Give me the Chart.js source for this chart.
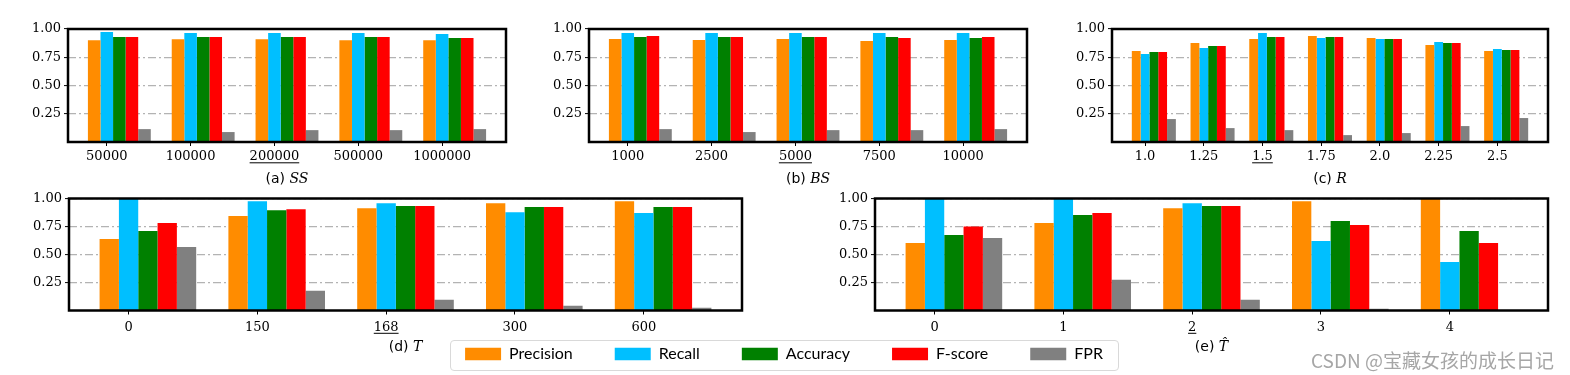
<!DOCTYPE html>
<html>
<head>
<meta charset="utf-8">
<script src="https://cdn.jsdelivr.net/npm/chart.js@4.4.0/dist/chart.umd.min.js"></script>
<style>
  body { margin: 0; background: #fff; }
  #page { position: relative; width: 1570px; height: 375px; overflow: hidden; background: #fff; }
  canvas { position: absolute; }
  #legendFrame { position: absolute; left: 450px; top: 340px; width: 667px; height: 29px;
    border: 1.5px solid #d9d9d9; border-radius: 4px; background: #fff; }
  #mark { position: absolute; right: 16px; top: 346px; font: 19px "Noto Sans CJK SC", sans-serif;
    color: #a6a6a6; white-space: nowrap; }
</style>
</head>
<body>
<div id="page">
  <canvas id="chartSS" width="520" height="190" style="left:0px;top:0px"></canvas>
  <canvas id="chartBS" width="520" height="190" style="left:520px;top:0px"></canvas>
  <canvas id="chartR" width="530" height="190" style="left:1040px;top:0px"></canvas>
  <canvas id="chartT" width="760" height="190" style="left:0px;top:185px"></canvas>
  <canvas id="chartTh" width="810" height="190" style="left:760px;top:185px"></canvas>
  <div id="legendFrame"></div>
  <canvas id="legend" width="800" height="110" style="left:384px;top:304px"></canvas>
  <div id="mark">CSDN @宝藏女孩的成长日记</div>
</div>
<script>
// series shared by every panel
const seriesNames = ["Precision", "Recall", "Accuracy", "F-score", "FPR"];
const seriesColors = ["#ff8c00", "#00bfff", "#008000", "#ff0000", "#808080"];

// (a) SS
const ssLabels = ["50000", "100000", "200000", "500000", "1000000"];
const ssPrecision = [0.90, 0.91, 0.91, 0.90, 0.90];
const ssRecall = [0.973, 0.964, 0.964, 0.964, 0.955];
const ssAccuracy = [0.929, 0.929, 0.929, 0.929, 0.92];
const ssFscore = [0.929, 0.929, 0.929, 0.929, 0.92];
const ssFPR = [0.114, 0.088, 0.105, 0.105, 0.114];

// (b) BS
const bsLabels = ["1000", "2500", "5000", "7500", "10000"];
const bsPrecision = [0.911, 0.902, 0.911, 0.893, 0.902];
const bsRecall = [0.964, 0.964, 0.964, 0.964, 0.964];
const bsAccuracy = [0.929, 0.929, 0.929, 0.929, 0.92];
const bsFscore = [0.938, 0.929, 0.929, 0.92, 0.929];
const bsFPR = [0.114, 0.088, 0.105, 0.105, 0.114];

// (c) R
const rLabels = ["1.0", "1.25", "1.5", "1.75", "2.0", "2.25", "2.5"];
const rPrecision = [0.805, 0.876, 0.911, 0.938, 0.92, 0.858, 0.805];
const rRecall = [0.779, 0.832, 0.964, 0.92, 0.911, 0.885, 0.823];
const rAccuracy = [0.796, 0.849, 0.929, 0.929, 0.911, 0.876, 0.814];
const rFscore = [0.796, 0.849, 0.929, 0.929, 0.911, 0.876, 0.814];
const rFPR = [0.203, 0.123, 0.105, 0.061, 0.079, 0.141, 0.212];

// (d) T
const tLabels = ["0", "150", "168", "300", "600"];
const tPrecision = [0.638, 0.843, 0.914, 0.958, 0.976];
const tRecall = [1.0, 0.976, 0.958, 0.878, 0.87];
const tAccuracy = [0.709, 0.896, 0.932, 0.923, 0.923];
const tFscore = [0.781, 0.905, 0.932, 0.923, 0.923];
const tFPR = [0.567, 0.176, 0.096, 0.042, 0.025];

// (e) T hat
const thLabels = ["0", "1", "2", "3", "4"];
const thPrecision = [0.603, 0.781, 0.914, 0.976, 0.995];
const thRecall = [1.0, 0.995, 0.958, 0.621, 0.434];
const thAccuracy = [0.674, 0.852, 0.932, 0.798, 0.709];
const thFscore = [0.751, 0.87, 0.932, 0.763, 0.603];
const thFPR = [0.647, 0.274, 0.096, 0.016, 0.0];

const yTicks = [0.25, 0.5, 0.75, 1.0];
const BAR = 0.15; // bar width in category units

const tickFont = { family: "DejaVu Serif", size: 13 };

const framePlugin = {
  id: "frame",
  afterDraw(chart) {
    const a = chart.chartArea, ctx = chart.ctx;
    ctx.save();
    ctx.lineWidth = 2.5;
    ctx.strokeStyle = "#000";
    ctx.strokeRect(a.left, a.top, a.right - a.left, a.bottom - a.top);
    ctx.restore();
  }
};

const captionPlugin = {
  id: "caption",
  afterDraw(chart, args, opts) {
    const ctx = chart.ctx, a = chart.chartArea;
    const cx = (a.left + a.right) / 2;
    ctx.save();
    ctx.fillStyle = "#000";
    ctx.textBaseline = "middle";
    ctx.textAlign = "left";
    ctx.font = '14px "DejaVu Sans"';
    const w1 = ctx.measureText(opts.tag + " ").width;
    ctx.font = 'italic 14px "DejaVu Serif"';
    const w2 = ctx.measureText(opts.sym).width;
    let x = cx - (w1 + w2) / 2;
    ctx.font = '14px "DejaVu Sans"';
    ctx.fillText(opts.tag + " ", x, opts.y);
    ctx.font = 'italic 14px "DejaVu Serif"';
    ctx.fillText(opts.sym, x + w1, opts.y);

    // underline the chosen default value on the x axis
    const sc = chart.scales.x;
    const lbl = opts.labels[opts.underline];
    ctx.font = '13px "DejaVu Serif"';
    const lw = ctx.measureText(lbl).width;
    const px = sc.getPixelForValue(opts.underline);
    const ly = a.bottom + 4 + opts.pad + 7.8 + 6;
    ctx.lineWidth = 1;
    ctx.strokeStyle = "#000";
    ctx.beginPath();
    ctx.moveTo(px - lw / 2, ly);
    ctx.lineTo(px + lw / 2, ly);
    ctx.stroke();
    ctx.restore();
  }
};

function makeChart(id, labels, series, g) {
  const n = labels.length;
  const span = n - 1 + 5 * BAR;
  const xMin = -1.5 * BAR - 0.05 * span;
  const xMax = n - 1 + 3.5 * BAR + 0.05 * span;
  const canvas = document.getElementById(id);
  const datasets = series.map((vals, k) => ({
    label: seriesNames[k],
    data: vals.map((v, i) => ({ x: i + BAR, y: v })),
    backgroundColor: seriesColors[k],
    borderWidth: 0,
    categoryPercentage: 5 * BAR,
    barPercentage: 1.0
  }));
  return new Chart(canvas, {
    type: "bar",
    data: { datasets: datasets },
    options: {
      responsive: false,
      animation: false,
      layout: { padding: { left: 0, top: g.top, right: canvas.width - g.right, bottom: 0 } },
      plugins: {
        legend: { display: false },
        tooltip: { enabled: false },
        caption: { tag: g.tag, sym: g.sym, y: g.capY, labels: labels, underline: 2, pad: g.pad }
      },
      scales: {
        x: {
          type: "linear",
          min: xMin,
          max: xMax,
          offset: false,
          afterBuildTicks: s => { s.ticks = labels.map((l, i) => ({ value: i })); },
          afterFit: s => { s.height = canvas.height - g.bottom; },
          ticks: {
            callback: v => labels[v],
            autoSkip: false,
            maxRotation: 0,
            padding: g.pad,
            color: "#000",
            font: tickFont
          },
          grid: { offset: false, drawOnChartArea: false, drawTicks: true, tickLength: 4, tickColor: "#000", tickWidth: 1 },
          border: { display: false }
        },
        y: {
          min: 0,
          max: 1,
          afterBuildTicks: s => { s.ticks = yTicks.map(v => ({ value: v })); },
          afterFit: s => { s.width = g.left; },
          ticks: {
            callback: v => v.toFixed(2),
            padding: 3,
            color: "#000",
            font: tickFont
          },
          grid: { color: "#b3b3b3", lineWidth: 1.2, drawTicks: true, tickLength: 4, tickColor: "#000", tickWidth: 1 },
          border: { display: false, dash: [8, 3, 2, 3] }
        }
      }
    },
    plugins: [framePlugin, captionPlugin]
  });
}

makeChart("chartSS", ssLabels, [ssPrecision, ssRecall, ssAccuracy, ssFscore, ssFPR],
  { left: 68, right: 506, top: 29, bottom: 142, pad: 3, tag: "(a)", sym: "SS", capY: 179 });
makeChart("chartBS", bsLabels, [bsPrecision, bsRecall, bsAccuracy, bsFscore, bsFPR],
  { left: 69, right: 507, top: 29, bottom: 142, pad: 3, tag: "(b)", sym: "BS", capY: 179 });
makeChart("chartR", rLabels, [rPrecision, rRecall, rAccuracy, rFscore, rFPR],
  { left: 72, right: 508, top: 29, bottom: 142, pad: 3, tag: "(c)", sym: "R", capY: 179 });
makeChart("chartT", tLabels, [tPrecision, tRecall, tAccuracy, tFscore, tFPR],
  { left: 69, right: 742, top: 13.5, bottom: 125.5, pad: 5, tag: "(d)", sym: "T", capY: 162 });
makeChart("chartTh", thLabels, [thPrecision, thRecall, thAccuracy, thFscore, thFPR],
  { left: 115, right: 788, top: 13.5, bottom: 125.5, pad: 5, tag: "(e)", sym: "T\u0302", capY: 162 });

// shared legend, drawn by its own chart
new Chart(document.getElementById("legend"), {
  type: "bar",
  data: {
    labels: [],
    datasets: seriesNames.map((name, k) => ({ label: name, data: [], backgroundColor: seriesColors[k], borderWidth: 0 }))
  },
  options: {
    responsive: false,
    animation: false,
    layout: { padding: 0 },
    scales: { x: { display: false }, y: { display: false } },
    plugins: {
      tooltip: { enabled: false },
      legend: {
        position: "top",
        maxHeight: 110,
        onClick: null,
        labels: { boxWidth: 36, boxHeight: 12.7, padding: 42, color: "#000", font: { family: "Lato", size: 16 } }
      }
    }
  }
});
</script>
</body>
</html>
